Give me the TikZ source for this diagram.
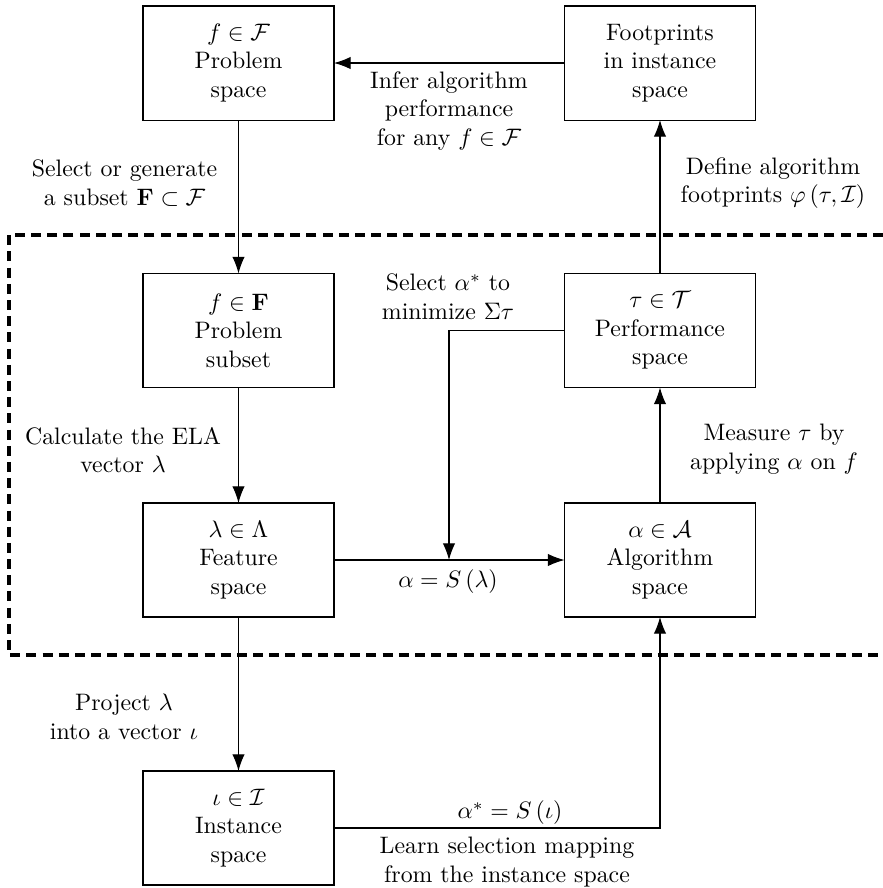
\documentclass[tikz,border=0pt]{standalone}
\usepackage{amsmath,amssymb}
\usetikzlibrary{arrows.meta}
\begin{document}
\begin{tikzpicture}[x=0.42pt,y=-0.42pt,
  spacebox/.style={draw,line width=0.45pt,minimum width=80.2pt,minimum height=47.9pt,inner sep=0pt,outer sep=0pt,align=center},
  lbl/.style={align=center,inner sep=0pt},
  conn/.style={line width=0.45pt,-{Latex[length=7pt,width=5.2pt]}},
  region/.style={line width=1.3pt,dash pattern=on 4.2pt off 2.6pt}]
\useasboundingbox (0,0) rectangle (883,888);
% region
\draw[region] (883,235) -- (9,235) -- (9,655) -- (883,655);
% boxes
\node[spacebox] (prob) at (238.5,63) {$f\in\mathcal{F}$\\Problem\\space};
\node[spacebox] (foot) at (660,63) {Footprints\\in instance\\space};
\node[spacebox] (sub) at (238.5,330.5) {$f\in\mathbf{F}$\\Problem\\subset};
\node[spacebox] (perf) at (660,330.5) {$\tau\in\mathcal{T}$\\Performance\\space};
\node[spacebox] (feat) at (238.5,560) {$\lambda\in\Lambda$\\Feature\\space};
\node[spacebox] (alg) at (660,560) {$\alpha\in\mathcal{A}$\\Algorithm\\space};
\node[spacebox] (inst) at (238.5,828) {$\iota\in\mathcal{I}$\\Instance\\space};
% connectors
\coordinate (sel) at (449,560);
\draw[conn] (foot.west) -- (prob.east);
\draw[conn] (prob.south) -- (sub.north);
\draw[conn] (sub.south) -- (feat.north);
\draw[conn] (feat.south) -- (inst.north);
\draw[conn] (feat.east) -- (alg.west);
\draw[conn] (alg.north) -- (perf.south);
\draw[conn] (perf.north) -- (foot.south);
\draw[conn] (perf.west) -| (sel);
\draw[conn] (inst.east) -| (alg.south);
% labels
\node[lbl] (l1) at (124.5,183) {Select or generate\\a subset $\mathbf{F}\subset\mathcal{F}$};
\node[lbl] (l2) at (449,111) {Infer algorithm\\performance\\for any $f\in\mathcal{F}$};
\node[lbl] (l3) at (773,183) {Define algorithm\\footprints $\varphi\left(\tau,\mathcal{I}\right)$};
\node[lbl] (l4) at (448,297) {Select $\alpha^{*}$ to\\minimize $\Sigma\tau$};
\node[lbl] (l5) at (123,450) {Calculate the ELA\\vector $\lambda$};
\node[lbl] (l6) at (774,449) {Measure $\tau$ by\\applying $\alpha$ on $f$};
\node[lbl] (l7) at (448,582) {$\alpha=S\left(\lambda\right)$};
\node[lbl] (l8) at (124,717) {Project $\lambda$\\into a vector $\iota$};
\node[lbl] (l9) at (510,813) {$\alpha^{*}=S\left(\iota\right)$};
\node[lbl] (l10) at (507,862) {Learn selection mapping\\from the instance space};
\end{tikzpicture}
\end{document}
